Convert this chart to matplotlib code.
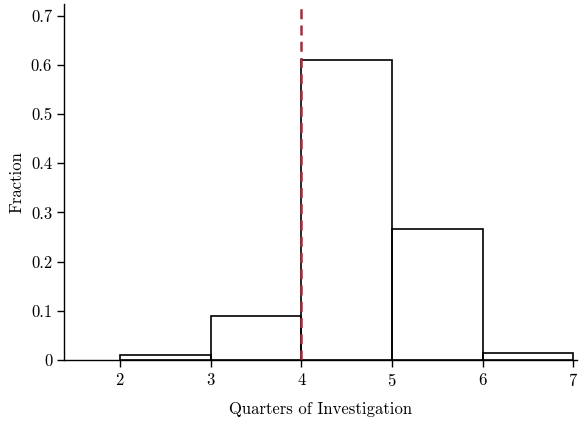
import matplotlib
matplotlib.use("Agg")
import matplotlib.pyplot as plt
from matplotlib.ticker import FuncFormatter

plt.rcParams['font.family'] = ['cmr10', 'DejaVu Serif']
plt.rcParams['mathtext.fontset'] = 'cm'
plt.rcParams['axes.formatter.use_mathtext'] = True

bin_edges = [2, 3, 4, 5, 6, 7]
fractions = [0.011, 0.090, 0.610, 0.267, 0.015]
median_line = 4
x_ticks = [2, 3, 4, 5, 6, 7]
y_ticks = [0, 0.1, 0.2, 0.3, 0.4, 0.5, 0.6, 0.7]

fig = plt.figure(figsize=(5.79, 4.25), dpi=100)
ax = fig.add_axes([64/579, 65/425, (577-64)/579, (421-65)/425])

lefts = bin_edges[:-1]
widths = [b - a for a, b in zip(bin_edges[:-1], bin_edges[1:])]
ax.bar(lefts, fractions, width=widths, align='edge', facecolor='none',
       edgecolor='black', linewidth=1.2)
ax.axvline(median_line, color='#a0303e', linestyle=(0, (4, 2.5)), linewidth=1.8)

ax.set_xlim(1.38, 7.04)
ax.set_ylim(0, 0.724)
ax.set_xticks(x_ticks)
ax.set_yticks(y_ticks)
ax.yaxis.set_major_formatter(FuncFormatter(lambda v, p: '0' if v == 0 else f'{v:.1f}'))
for s in ['top', 'right']:
    ax.spines[s].set_visible(False)
for s in ['left', 'bottom']:
    ax.spines[s].set_linewidth(1.0)
ax.tick_params(direction='out', length=5, width=1, labelsize=12)
ax.set_xlabel('Quarters of Investigation', fontsize=12, labelpad=9)
ax.set_ylabel('Fraction', fontsize=12)
ax.yaxis.set_label_coords(-0.078, 0.5)

fig.savefig('out.png', dpi=100)
